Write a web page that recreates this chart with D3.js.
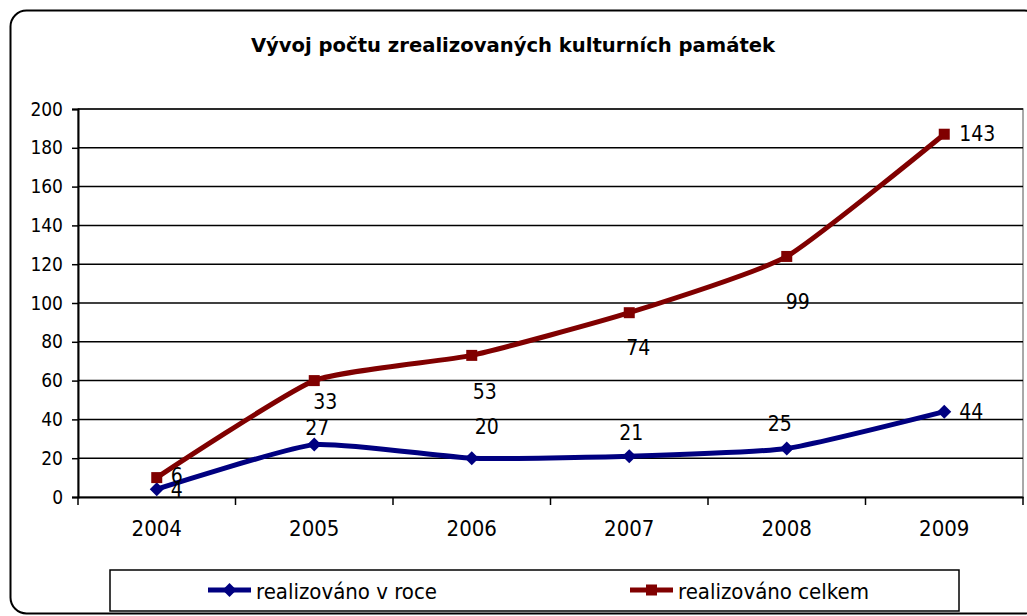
<!DOCTYPE html>
<html><head><meta charset="utf-8">
<script src="https://cdn.jsdelivr.net/npm/d3@7/dist/d3.min.js"></script>
<style>
html,body{margin:0;padding:0;background:#fff;}
text{font-family:"DejaVu Sans Condensed","DejaVu Sans",sans-serif;fill:#000;}
</style></head><body>
<svg id="c" width="1027" height="616"></svg>
<script>
const title = "Vývoj počtu zrealizovaných kulturních památek";
const categories = ["2004","2005","2006","2007","2008","2009"];
const seriesNames = ["realizováno v roce","realizováno celkem"];
const rocValues = [4, 27, 20, 21, 25, 44];
const celkemValues = [6, 33, 53, 74, 99, 143];
const yTicks = [0,20,40,60,80,100,120,140,160,180,200];

// label offsets (layout, px) relative to point
const rocLabelOffsets = [[20,1],[3,-17],[15,-31],[2,-23],[-7,-25],[27,0]];
const celkemLabelOffsets = [[20,-2],[11,21],[13,37],[9,35],[11,46],[33,0]];

const colors = ["#000080","#800000"];
const svg = d3.select("#c");
const plot = {l:78, r:1023, t:109, b:497};
const FF = "'DejaVu Sans Condensed','DejaVu Sans',sans-serif";

// outer border
svg.append("rect").attr("x",10.5).attr("y",10.5).attr("width",1030).attr("height",603)
  .attr("rx",16).attr("ry",16).attr("fill","#fff").attr("stroke","#000").attr("stroke-width",2);

svg.append("text").attr("x",513).attr("y",52).attr("text-anchor","middle")
  .style("font-family","'DejaVu Sans',sans-serif")
  .attr("font-size",19.6).attr("font-weight","bold").text(title);

const x = d3.scaleBand().domain(categories).range([plot.l,plot.r]).padding(0);
const y = d3.scaleLinear().domain([0,200]).range([plot.b,plot.t]);

// plot area border
svg.append("rect").attr("x",plot.l).attr("y",plot.t).attr("width",plot.r-plot.l).attr("height",plot.b-plot.t)
  .attr("fill","none").attr("stroke","#8c8c8c").attr("stroke-width",1.5);

// gridlines
svg.append("g").selectAll("line").data(yTicks.filter(d=>d>0)).join("line")
  .attr("x1",plot.l).attr("x2",plot.r).attr("y1",d=>y(d)).attr("y2",d=>y(d))
  .attr("stroke","#000").attr("stroke-width",1.5);

// y axis
const yAxis = svg.append("g").attr("transform",`translate(${plot.l},0)`)
  .call(d3.axisLeft(y).tickValues(yTicks).tickSize(6).tickPadding(9));
yAxis.select(".domain").attr("stroke","#000").attr("stroke-width",2);
yAxis.selectAll(".tick line").attr("stroke","#000").attr("stroke-width",1.5);
yAxis.selectAll("text").attr("font-size",19).style("font-family",FF);

// x axis
const xAxis = svg.append("g").attr("transform",`translate(0,${plot.b})`)
  .call(d3.axisBottom(x).tickSize(0).tickPadding(23));
xAxis.select(".domain").attr("stroke","#000").attr("stroke-width",2);
xAxis.selectAll("text").attr("font-size",22).style("font-family",FF);
// boundary ticks
const bounds = categories.map(c=>x(c)).concat([x(categories[categories.length-1])+x.bandwidth()]);
svg.append("g").selectAll("line").data(bounds).join("line")
  .attr("x1",d=>d).attr("x2",d=>d).attr("y1",plot.b).attr("y2",plot.b+8)
  .attr("stroke","#000").attr("stroke-width",1.5);

const cx = c => x(c)+x.bandwidth()/2;
const stacked = celkemValues.map((v,i)=>v+rocValues[i]);

const line = d3.line().x(d=>cx(d.c)).y(d=>y(d.v)).curve(d3.curveCardinal.tension(0.5));
const rocData = categories.map((c,i)=>({c, v:rocValues[i], lab:rocValues[i]}));
const celData = categories.map((c,i)=>({c, v:stacked[i], lab:celkemValues[i]}));

function drawSeries(data, color, marker, offsets){
  svg.append("path").datum(data).attr("d",line).attr("fill","none")
    .attr("stroke",color).attr("stroke-width",5).attr("stroke-linejoin","round");
  const g = svg.append("g");
  if(marker==="square"){
    g.selectAll("rect").data(data).join("rect")
      .attr("x",d=>cx(d.c)-5.5).attr("y",d=>y(d.v)-5.5).attr("width",11).attr("height",11).attr("fill",color);
  } else {
    g.selectAll("path").data(data).join("path")
      .attr("d",d=>`M${cx(d.c)},${y(d.v)-7}L${cx(d.c)+7},${y(d.v)}L${cx(d.c)},${y(d.v)+7}L${cx(d.c)-7},${y(d.v)}Z`)
      .attr("fill",color);
  }
  svg.append("g").selectAll("text").data(data).join("text")
    .attr("x",(d,i)=>cx(d.c)+offsets[i][0]).attr("y",(d,i)=>y(d.v)+offsets[i][1])
    .attr("text-anchor","middle").attr("dominant-baseline","central")
    .attr("font-size",21).text(d=>d.lab);
}
drawSeries(rocData, colors[0], "diamond", rocLabelOffsets);
drawSeries(celData, colors[1], "square", celkemLabelOffsets);

// legend
const leg = svg.append("g");
leg.append("rect").attr("x",110).attr("y",570).attr("width",849).attr("height",41)
  .attr("fill","#fff").attr("stroke","#000").attr("stroke-width",1.5);
const legX = [208, 630];
seriesNames.forEach((n,i)=>{
  const g = leg.append("g");
  g.append("line").attr("x1",legX[i]).attr("x2",legX[i]+43).attr("y1",590).attr("y2",590)
    .attr("stroke",colors[i]).attr("stroke-width",5);
  const mx = legX[i]+21.5;
  if(i===0){
    g.append("path").attr("d",`M${mx},583L${mx+7},590L${mx},597L${mx-7},590Z`).attr("fill",colors[i]);
  } else {
    g.append("rect").attr("x",mx-5.5).attr("y",584.5).attr("width",11).attr("height",11).attr("fill",colors[i]);
  }
  g.append("text").attr("x",legX[i]+48).attr("y",591).attr("dominant-baseline","central")
    .attr("font-size",22).text(n);
});
</script></body></html>
